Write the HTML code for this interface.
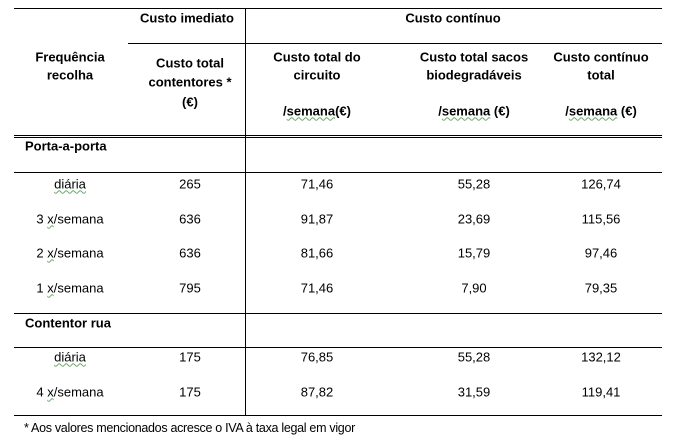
<!DOCTYPE html>
<html><head><meta charset="utf-8"><style>
body{margin:0;width:682px;height:445px;background:#fff;position:relative;font-family:"Liberation Sans",sans-serif;font-size:13px;color:#000;overflow:hidden}
.l{position:absolute;background:#000}
.t{position:absolute;white-space:nowrap;transform:translate(-50%,-50%);line-height:1}
.b{font-weight:bold}
.s{text-decoration:underline wavy #6a6;text-decoration-thickness:1px}
</style></head><body>
<div class="l" style="left:14px;top:8px;width:648px;height:1px"></div>
<div class="l" style="left:128px;top:43px;width:534px;height:1px"></div>
<div class="l" style="left:14px;top:135px;width:648px;height:1px"></div>
<div class="l" style="left:14px;top:137px;width:648px;height:1px"></div>
<div class="l" style="left:14px;top:172px;width:648px;height:1px"></div>
<div class="l" style="left:14px;top:313px;width:648px;height:1px"></div>
<div class="l" style="left:14px;top:347px;width:648px;height:1px"></div>
<div class="l" style="left:14px;top:415px;width:648px;height:1px"></div>
<div class="l" style="left:245px;top:8px;width:1px;height:408px"></div>

<div class="t b" style="left:187px;top:18px">Custo imediato</div>
<div class="t b" style="left:453px;top:18px">Custo contínuo</div>
<div class="t b" style="left:70px;top:57px">Frequência</div>
<div class="t b" style="left:70px;top:75px">recolha</div>
<div class="t b" style="left:190px;top:63px">Custo total</div>
<div class="t b" style="left:190px;top:82px">contentores *</div>
<div class="t b" style="left:190px;top:102px">(€)</div>
<div class="t b" style="left:317px;top:57px">Custo total do</div>
<div class="t b" style="left:317px;top:75px">circuito</div>
<div class="t b" style="left:317px;top:111px">/<span class="s">semana</span>(€)</div>
<div class="t b" style="left:474px;top:57px">Custo total sacos</div>
<div class="t b" style="left:474px;top:75px">biodegradáveis</div>
<div class="t b" style="left:474px;top:111px">/<span class="s">semana</span> (€)</div>
<div class="t b" style="left:601px;top:57px">Custo contínuo</div>
<div class="t b" style="left:601px;top:75px">total</div>
<div class="t b" style="left:601px;top:111px">/<span class="s">semana</span> (€)</div>

<div class="t b" style="left:25px;top:146px;transform:translate(0,-50%)">Porta-a-porta</div>
<div class="t" style="left:70px;top:184px"><span class="s">diária</span></div>
<div class="t" style="left:190px;top:184px">265</div><div class="t" style="left:317px;top:184px">71,46</div><div class="t" style="left:474px;top:184px">55,28</div><div class="t" style="left:601px;top:184px">126,74</div>
<div class="t" style="left:70px;top:219px">3 <span class="s">x</span>/semana</div>
<div class="t" style="left:190px;top:219px">636</div><div class="t" style="left:317px;top:219px">91,87</div><div class="t" style="left:474px;top:219px">23,69</div><div class="t" style="left:601px;top:219px">115,56</div>
<div class="t" style="left:70px;top:253px">2 <span class="s">x</span>/semana</div>
<div class="t" style="left:190px;top:253px">636</div><div class="t" style="left:317px;top:253px">81,66</div><div class="t" style="left:474px;top:253px">15,79</div><div class="t" style="left:601px;top:253px">97,46</div>
<div class="t" style="left:70px;top:288px">1 <span class="s">x</span>/semana</div>
<div class="t" style="left:190px;top:288px">795</div><div class="t" style="left:317px;top:288px">71,46</div><div class="t" style="left:474px;top:288px">7,90</div><div class="t" style="left:601px;top:288px">79,35</div>

<div class="t b" style="left:25px;top:323px;transform:translate(0,-50%)">Contentor rua</div>
<div class="t" style="left:70px;top:357px"><span class="s">diária</span></div>
<div class="t" style="left:190px;top:357px">175</div><div class="t" style="left:317px;top:357px">76,85</div><div class="t" style="left:474px;top:357px">55,28</div><div class="t" style="left:601px;top:357px">132,12</div>
<div class="t" style="left:70px;top:392px">4 <span class="s">x</span>/semana</div>
<div class="t" style="left:190px;top:392px">175</div><div class="t" style="left:317px;top:392px">87,82</div><div class="t" style="left:474px;top:392px">31,59</div><div class="t" style="left:601px;top:392px">119,41</div>

<div class="t" style="left:24px;top:428px;transform:translate(0,-50%);font-size:12.5px;letter-spacing:-0.3px">* Aos valores mencionados acresce o IVA à taxa legal em vigor</div>
</body></html>
